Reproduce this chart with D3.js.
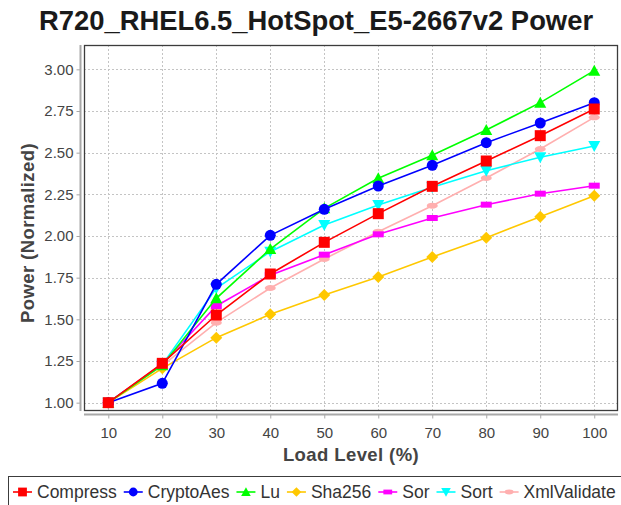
<!DOCTYPE html>
<html>
<head>
<meta charset="utf-8">
<script src="https://cdn.jsdelivr.net/npm/d3@7"></script>
<style>
  html, body { margin: 0; padding: 0; background: #fff; }
  svg { display: block; font-family: "Liberation Sans", Arial, sans-serif; }
</style>
</head>
<body>
<svg id="chart" width="621" height="505"></svg>
<script>
// load levels (x axis)
var loadLevels = [10, 20, 30, 40, 50, 60, 70, 80, 90, 100];
var yTicks = [1.00, 1.25, 1.50, 1.75, 2.00, 2.25, 2.50, 2.75, 3.00];

// normalized power per benchmark
var compress    = [1.00, 1.236, 1.526, 1.772, 1.962, 2.134, 2.298, 2.450, 2.602, 2.762];
var cryptoAes   = [1.00, 1.116, 1.710, 2.004, 2.160, 2.300, 2.424, 2.560, 2.678, 2.800];
var lu          = [1.00, 1.225, 1.626, 1.922, 2.166, 2.346, 2.484, 2.636, 2.800, 2.992];
var sha256      = [1.00, 1.206, 1.390, 1.530, 1.646, 1.754, 1.874, 1.990, 2.116, 2.242];
var sor         = [1.00, 1.232, 1.580, 1.765, 1.888, 2.010, 2.108, 2.188, 2.254, 2.302];
var sort        = [1.00, 1.228, 1.686, 1.906, 2.066, 2.186, 2.292, 2.392, 2.472, 2.540];
var xmlValidate = [1.00, 1.222, 1.480, 1.688, 1.862, 2.026, 2.182, 2.348, 2.522, 2.712];

var seriesNames  = ['Compress', 'CryptoAes', 'Lu', 'Sha256', 'Sor', 'Sort', 'XmlValidate'];
var seriesValues = [compress, cryptoAes, lu, sha256, sor, sort, xmlValidate];
var seriesColors = ['#ff0000', '#0000ff', '#00ff00', '#ffc800', '#ff00ff', '#00ffff', '#ffafaf'];
var seriesShapes = ['square', 'circle', 'up', 'diamond', 'hrect', 'down', 'hellipse'];

var svg = d3.select('#chart');

var plot = { left: 84, right: 618, top: 45, bottom: 411 };

var x = d3.scaleLinear().domain([5.5, 104.4]).range([plot.left, plot.right]);
var y = d3.scaleLinear().domain([0.95, 3.146]).range([plot.bottom, plot.top]);

// title
svg.append('text')
  .attr('x', 316).attr('y', 30)
  .attr('text-anchor', 'middle')
  .attr('font-size', 27.4).attr('font-weight', 'bold')
  .attr('fill', '#1a1a1a')
  .text('R720_RHEL6.5_HotSpot_E5-2667v2 Power');

// grid
var grid = svg.append('g').attr('stroke', '#c4c4c4').attr('stroke-width', 1).attr('stroke-dasharray', '2,2');
grid.selectAll('.vg').data(loadLevels).enter().append('line')
  .attr('x1', function(d) { return Math.round(x(d)) + 0.5; })
  .attr('x2', function(d) { return Math.round(x(d)) + 0.5; })
  .attr('y1', plot.top).attr('y2', plot.bottom);
grid.selectAll('.hg').data(yTicks).enter().append('line')
  .attr('y1', function(d) { return Math.round(y(d)) + 0.5; })
  .attr('y2', function(d) { return Math.round(y(d)) + 0.5; })
  .attr('x1', plot.left).attr('x2', plot.right);

// axes (offset from plot, like the original)
var yAxis = d3.axisLeft(y).tickValues(yTicks).tickFormat(d3.format('.2f')).tickSize(4).tickPadding(3);
var yg = svg.append('g').attr('transform', 'translate(80.5,0)').call(yAxis);
yg.select('.domain').attr('d', 'M0,' + plot.top + 'V' + plot.bottom);

var xAxis = d3.axisBottom(x).tickValues(loadLevels).tickSize(4).tickPadding(8.5);
var xg = svg.append('g').attr('transform', 'translate(0,414.5)').call(xAxis);
xg.select('.domain').attr('d', 'M' + plot.left + ',0H' + plot.right);

svg.selectAll('.domain').attr('stroke', '#a8a8a8').attr('stroke-width', 2);
svg.selectAll('.tick line').attr('stroke', '#a8a8a8');
svg.selectAll('.tick text')
  .attr('font-size', 15).attr('fill', '#444')
  .attr('font-family', '"Liberation Sans", Arial, sans-serif');

// axis labels
svg.append('text')
  .attr('x', 351).attr('y', 461)
  .attr('text-anchor', 'middle')
  .attr('font-size', 18.5).attr('font-weight', 'bold').attr('fill', '#444')
  .attr('letter-spacing', 0.4)
  .text('Load Level (%)');

svg.append('text')
  .attr('transform', 'translate(34,233) rotate(-90)')
  .attr('text-anchor', 'middle')
  .attr('font-size', 18.5).attr('font-weight', 'bold').attr('fill', '#444')
  .attr('letter-spacing', 0.4)
  .text('Power (Normalized)');

// plot border
svg.append('rect')
  .attr('x', plot.left + 0.5).attr('y', plot.top + 0.5)
  .attr('width', plot.right - plot.left - 1).attr('height', plot.bottom - plot.top - 1)
  .attr('fill', 'none').attr('stroke', '#3c3c3c').attr('stroke-width', 1.3);

function shapePath(kind) {
  switch (kind) {
    case 'square':   return 'M-5.5,-5.5H5.5V5.5H-5.5Z';
    case 'circle':   return 'M-5.5,0A5.5,5.5 0 1,0 5.5,0A5.5,5.5 0 1,0 -5.5,0Z';
    case 'up':       return 'M0,-6L6,5H-6Z';
    case 'down':     return 'M0,6L6,-5H-6Z';
    case 'diamond':  return 'M0,-6L6,0L0,6L-6,0Z';
    case 'hrect':    return 'M-5.5,-3H5.5V3H-5.5Z';
    case 'hellipse': return 'M-5.5,0A5.5,3 0 1,0 5.5,0A5.5,3 0 1,0 -5.5,0Z';
  }
}

var line = d3.line()
  .x(function(d, i) { return x(loadLevels[i]); })
  .y(function(d) { return y(d); });

// draw the last series first so Compress ends on top
var order = d3.range(seriesNames.length).reverse();
var layer = svg.append('g');
order.forEach(function(s) {
  var g = layer.append('g');
  g.append('path')
    .attr('d', line(seriesValues[s]))
    .attr('fill', 'none')
    .attr('stroke', seriesColors[s])
    .attr('stroke-width', 1.6);
  g.selectAll('path.pt').data(seriesValues[s]).enter().append('path')
    .attr('class', 'pt')
    .attr('transform', function(d, i) { return 'translate(' + x(loadLevels[i]) + ',' + y(d) + ')'; })
    .attr('d', shapePath(seriesShapes[s]))
    .attr('fill', seriesColors[s]);
});

// legend
svg.append('rect')
  .attr('x', 8.5).attr('y', 476.5).attr('width', 640).attr('height', 40)
  .attr('fill', 'none').attr('stroke', '#3c3c3c').attr('stroke-width', 1);

var lx = 13;
seriesNames.forEach(function(name, s) {
  var g = svg.append('g').attr('transform', 'translate(' + lx + ',492)');
  g.append('line').attr('x1', 0).attr('x2', 19).attr('stroke', seriesColors[s]).attr('stroke-width', 1.6);
  g.append('path').attr('transform', 'translate(9.5,0) scale(0.8)').attr('d', shapePath(seriesShapes[s])).attr('fill', seriesColors[s]);
  var t = g.append('text').attr('x', 24).attr('y', 6)
    .attr('font-size', 17.5).attr('fill', '#333')
    .text(name);
  lx += 24 + t.node().getComputedTextLength() + 7;
});
</script>
</body>
</html>
